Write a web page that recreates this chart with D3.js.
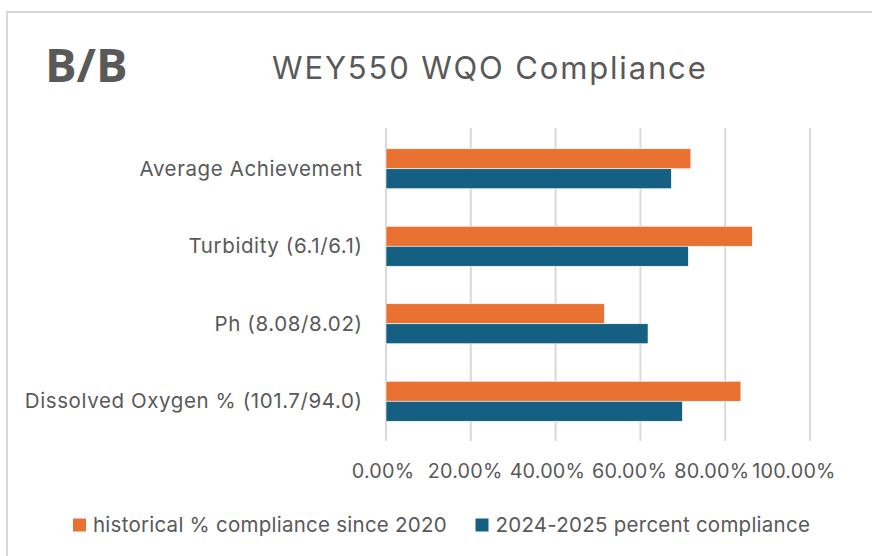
<!DOCTYPE html>
<html><head><meta charset="utf-8">
<script src="https://cdn.jsdelivr.net/npm/d3@7"></script>
<style>
html,body{margin:0;padding:0;background:#fff;}
svg{display:block;}
text{font-family:Inter,"Open Sans",sans-serif;fill:#595959;}
</style></head>
<body>
<script>
const categories = ["Average Achievement","Turbidity (6.1/6.1)","Ph (8.08/8.02)","Dissolved Oxygen % (101.7/94.0)"];
const historical = [0.719, 0.864, 0.515, 0.837];
const current2425 = [0.673, 0.713, 0.618, 0.699];
const seriesNames = ["historical % compliance since 2020","2024-2025 percent compliance"];
const tickValues = [0, 0.2, 0.4, 0.6, 0.8, 1.0];
const tickLabels = ["0.00%","20.00%","40.00%","60.00%","80.00%","100.00%"];
const colors = ["#E97132","#156082"];

const W = 872, H = 556;
const svg = d3.select("body").append("svg").attr("width", W).attr("height", H);

// chart border
svg.append("rect").attr("x",7).attr("y",12).attr("width",W).attr("height",H)
  .attr("fill","#fff").attr("stroke","#d9d9d9").attr("stroke-width",2);

svg.append("text").attr("x",45).attr("y",82).text("B/B")
  .style("font-family","'Open Sans',sans-serif").style("font-weight","700").style("font-size","47px");

svg.append("text").attr("x",272).attr("y",78.5)
  .text("WEY550 WQO Compliance").style("font-size","31px").style("letter-spacing","1.85px");

const x = d3.scaleLinear().domain([0,1]).range([386,810]);
const xLabel = d3.scaleLinear().domain([0,1]).range([383,794]);
const y = d3.scaleBand().domain(categories).range([130,440]).paddingInner(0.484).paddingOuter(0.242);
const sub = d3.scaleBand().domain([0,1]).range([0,y.bandwidth()]);

// gridlines
svg.append("g").selectAll("line").data(tickValues).join("line")
  .attr("x1",d=>x(d)).attr("x2",d=>x(d)).attr("y1",128).attr("y2",441)
  .attr("stroke","#d9d9d9").attr("stroke-width",2);

// tick labels
svg.append("g").selectAll("text").data(tickValues).join("text")
  .attr("x",d=>xLabel(d)).attr("y",478).attr("text-anchor","middle")
  .style("font-size","19.8px").style("letter-spacing","0.2px").text((d,i)=>tickLabels[i]);

// category labels
svg.append("g").selectAll("text").data(categories).join("text")
  .attr("x",362.6).attr("y",d=>y(d)+y.bandwidth()/2).attr("dy","0.35em")
  .attr("text-anchor","end").style("font-size","20.5px").style("letter-spacing","0.6px").text(d=>d);

// bars
const series = [historical, current2425];
series.forEach((vals, s) => {
  svg.append("g").selectAll("rect").data(categories).join("rect")
    .attr("x", x(0)).attr("y", (d)=>y(d)+sub(s))
    .attr("width", (d,i)=>x(vals[i])-x(0)).attr("height", sub.bandwidth())
    .attr("fill", colors[s]).attr("stroke","#fff").attr("stroke-width",0.6);
});

// legend
const legX = [73, 475.5];
seriesNames.forEach((n,i)=>{
  svg.append("rect").attr("x",legX[i]).attr("y",518.5).attr("width",13).attr("height",13).attr("fill",colors[i]);
  svg.append("text").attr("x",legX[i]+20).attr("y",525).attr("dy","0.35em")
    .style("font-size","20.5px").style("letter-spacing","0.25px").text(n);
});
</script>
</body></html>
